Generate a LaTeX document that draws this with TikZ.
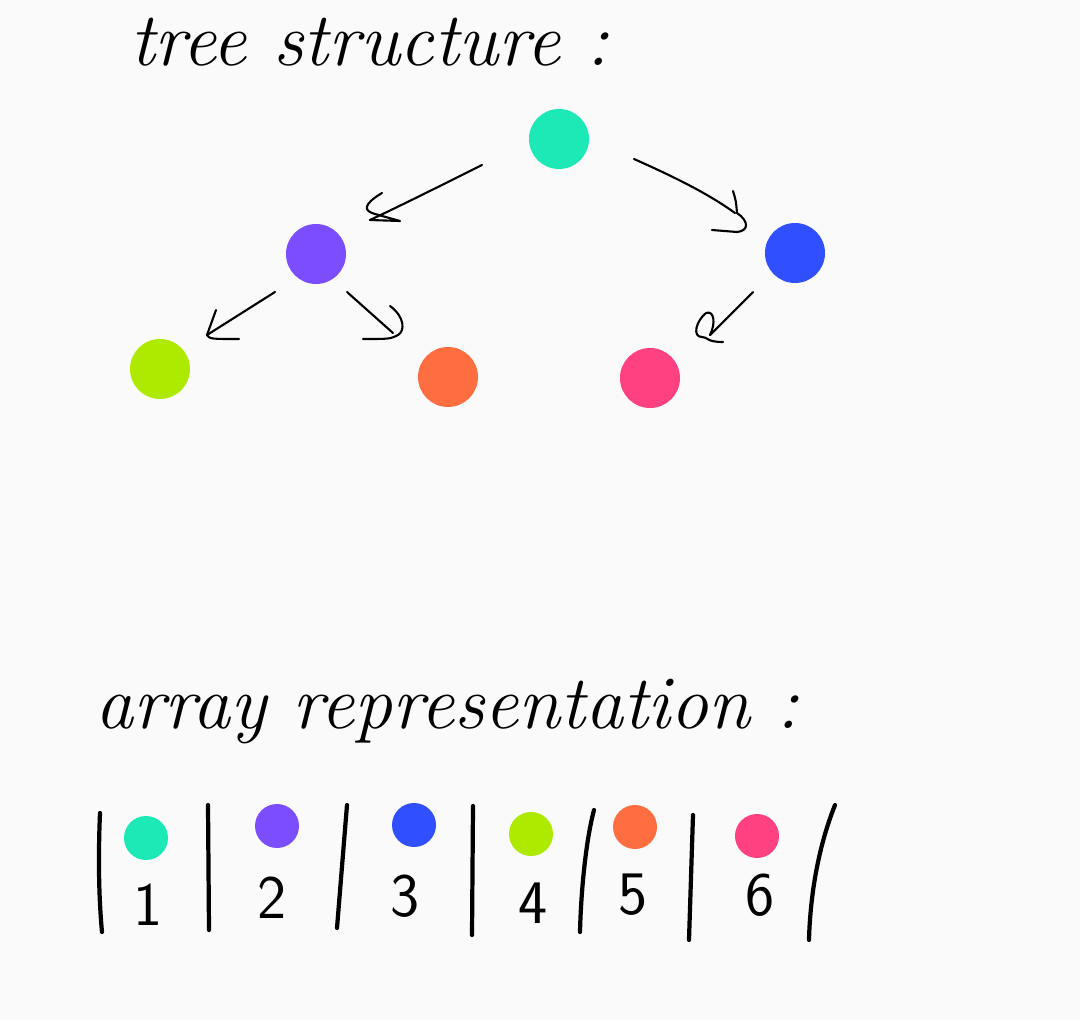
\documentclass[tikz,border=0pt]{standalone}
\usetikzlibrary{calc}
\definecolor{bg}{HTML}{FAFAFA}
\definecolor{cTeal}{HTML}{1DE9B6}
\definecolor{cPurple}{HTML}{7C4DFF}
\definecolor{cBlue}{HTML}{304FFE}
\definecolor{cLime}{HTML}{AEEA00}
\definecolor{cOrange}{HTML}{FF6E40}
\definecolor{cPink}{HTML}{FF4081}
\begin{document}
\begin{tikzpicture}[x=0.25mm,y=-0.25mm,
  dot/.style={circle,fill=#1,inner sep=0pt,minimum size=15mm},
  adot/.style={circle,fill=#1,inner sep=0pt,minimum size=11mm},
  pen/.style={line width=1.5pt,line cap=round,line join=round},
  bar/.style={line width=3pt,line cap=round},
  digit/.style={font=\sffamily\fontsize{44}{46}\selectfont,inner sep=0pt},
  title/.style={font=\itshape\fontsize{54}{58}\selectfont,inner sep=0pt,anchor=base west}]
\fill[bg] (0,0) rectangle (1080,1020);
\useasboundingbox (0,0) rectangle (1080,1020);

% titles
\node[title] (t1) at (130,65) {tree structure :};
\node[title] (t2) at (95,728) {array representation :};

% tree nodes
\node[dot=cTeal]   (A) at (559,139) {};
\node[dot=cPurple] (B) at (316,254) {};
\node[dot=cBlue]   (C) at (795,253) {};
\node[dot=cLime]   (D) at (160,369) {};
\node[dot=cOrange] (E) at (448,377) {};
\node[dot=cPink]   (F) at (650,378) {};

% arrow tips
\coordinate (tAB) at ($(B)+(54,-34)$);
\coordinate (tAC) at ($(C)+(-60,-40)$);
\coordinate (tBD) at ($(D)+(47,-34)$);
\coordinate (tBE) at ($(E)+(-55,-44)$);
\coordinate (tCF) at ($(F)+(60,-43)$);

% connectors
\draw[pen] ($(A)+(-77,26)$) .. controls +(-40,20) and +(30,-14) .. (tAB);
\draw[pen] ($(A)+(75,20)$) .. controls +(45,20) and +(-25,-18) .. (tAC);
\draw[pen] ($(B)+(-41,38)$) -- (tBD);
\draw[pen] ($(B)+(31,38)$) -- (tBE);
\draw[pen] ($(C)+(-42,39)$) -- (tCF);

% hand-drawn heads
\begin{scope}[shift={(tAB)}]
  \draw[pen] (12,-27) .. controls (-8,-15) and (-6,-9) .. (5,-6) -- (30,1) -- (0,0);
\end{scope}
\begin{scope}[shift={(tAC)}]
  \draw[pen] (-2,-22) .. controls (1,-12) .. (2,0) .. controls (14,8) and (14,18) .. (2,19) -- (-23,17);
\end{scope}
\begin{scope}[shift={(tBD)}]
  \draw[pen] (9,-25) .. controls (4,-12) .. (0,0) .. controls (3,4) .. (32,4);
\end{scope}
\begin{scope}[shift={(tBE)}]
  \draw[pen] (-3,-27) .. controls (12,-16) and (12,-2) .. (5,2) .. controls (-3,6) .. (-30,6);
\end{scope}
\begin{scope}[shift={(tCF)}]
  \draw[pen] (0,0) .. controls (6,-12) and (4,-25) .. (-4,-22) .. controls (-14,-14) and (-18,2) .. (-8,2) .. controls (-2,2) and (-4,7) .. (13,7);
\end{scope}

% array
\node[adot=cTeal]   (a1) at (146,838) {};
\node[adot=cPurple] (a2) at (277,826) {};
\node[adot=cBlue]   (a3) at (414,825) {};
\node[adot=cLime]   (a4) at (531,834) {};
\node[adot=cOrange] (a5) at (635,827) {};
\node[adot=cPink]   (a6) at (757,836) {};

\draw[bar] (100,813) .. controls (98,860) and (99,900) .. (102,932);
\draw[bar] (208,805) -- (209,930);
\draw[bar] (347,805) -- (337,928);
\draw[bar] (473,806) -- (472,935);
\draw[bar] (594,810) .. controls (586,840) and (581,890) .. (580,932);
\draw[bar] (693,815) -- (689,940);
\draw[bar] (835,805) .. controls (817,850) and (810,900) .. (809,940);

\node[digit] (d1) at (148,905) {1};
\node[digit] (d2) at (272,898) {2};
\node[digit] (d3) at (405,896) {3};
\node[digit] (d4) at (533,903) {4};
\node[digit] (d5) at (633,895) {5};
\node[digit] (d6) at (760,895) {6};
\end{tikzpicture}
\end{document}
